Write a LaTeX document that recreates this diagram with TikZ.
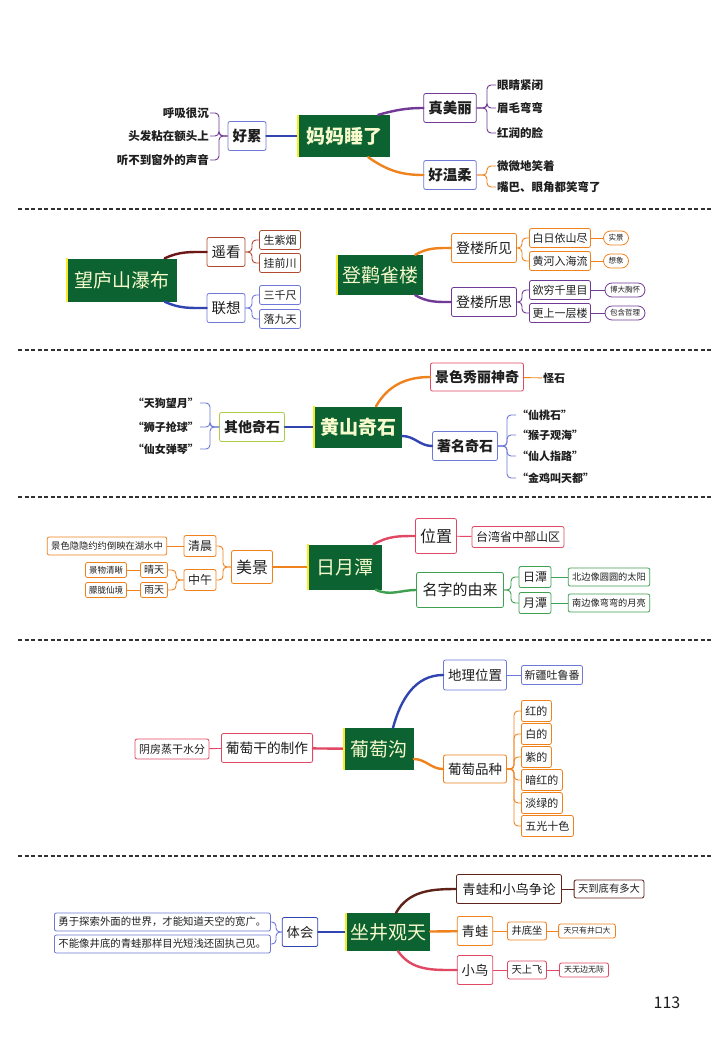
\documentclass[tikz,border=0pt]{standalone}
\usepackage{fontspec}
\setmainfont{Noto Sans CJK SC}
\usepackage{tikz}

\definecolor{cTopic}{RGB}{12,98,48}
\definecolor{cTopicText}{RGB}{246,250,205}
\definecolor{cEdge}{RGB}{250,235,40}
\definecolor{cPurple}{RGB}{112,58,150}
\definecolor{cBlue}{RGB}{48,68,178}
\definecolor{cLightBlue}{RGB}{110,120,215}
\definecolor{cOrange}{RGB}{240,130,30}
\definecolor{cRust}{RGB}{175,75,50}
\definecolor{cMaroon}{RGB}{110,22,22}
\definecolor{cPink}{RGB}{225,72,100}
\definecolor{cLime}{RGB}{170,205,70}
\definecolor{cGreen}{RGB}{62,160,80}
\definecolor{cDark}{RGB}{95,35,25}
\definecolor{cText}{RGB}{30,30,30}
\definecolor{cSep}{RGB}{50,50,50}

\tikzset{
	topicbox/.style={fill=cTopic, text=cTopicText, font=\fontsize{19}{19}\selectfont, inner xsep=7pt, inner ysep=1pt, minimum height=42pt},
	topicedge/.style={draw=cEdge, line width=2.2pt},
	bigbox/.style={draw=#1, line width=0.8pt, fill=white, rounded corners=2pt, text=cText, font=\fontsize{14}{14}\selectfont, inner xsep=4.5pt, inner ysep=1pt, minimum height=29pt},
	midbox/.style={bigbox=#1, font=\fontsize{12}{12}\selectfont, inner xsep=4pt, minimum height=21pt},
	subbox/.style={bigbox=#1, font=\fontsize{11}{11}\selectfont, inner xsep=4pt, minimum height=19pt},
	smallbox/.style={bigbox=#1, font=\fontsize{9}{9}\selectfont, inner xsep=3.5pt, minimum height=15pt},
	pillbox/.style={bigbox=#1, rounded corners=7pt, font=\fontsize{7.5}{7.5}\selectfont, inner xsep=5pt, minimum height=14pt},
	leaftext/.style={text=cText, font=\bfseries\fontsize{11.5}{11.5}\selectfont, inner sep=1pt},
	branchline/.style={draw=#1, line width=2.4pt, line cap=round},
	twigline/.style={draw=#1, line width=0.9pt, rounded corners=4pt},
	sepline/.style={draw=cSep, line width=1.3pt, dash pattern=on 4pt off 2.5pt},
}

\begin{document}
\begin{tikzpicture}[x=1pt, y=-1pt]

	\useasboundingbox[fill=white] (0,0) rectangle (713,1042);
	\foreach \y in {209,350,497,640,856}
		\draw[sepline] (18,\y) -- (713,\y);

	\node[topicbox, font=\bfseries\fontsize{19}{19}\selectfont, inner xsep=8pt] (mama) at (344,136) {妈妈睡了};
	\node[bigbox=cLightBlue, font=\bfseries\fontsize{14.5}{14.5}\selectfont] (haolei) at (247,136) {好累};
	\node[bigbox=cPurple, font=\bfseries\fontsize{14.5}{14.5}\selectfont] (meili) at (450,108) {真美丽};
	\node[bigbox=cLightBlue, font=\bfseries\fontsize{14.5}{14.5}\selectfont] (wenrou) at (450,175) {好温柔};
	\node[leaftext, anchor=east] (huxi) at (210,113) {呼吸很沉};
	\node[leaftext, anchor=east] (toufa) at (210,136) {头发粘在额头上};
	\node[leaftext, anchor=east] (tingbu) at (210,160) {听不到窗外的声音};
	\node[leaftext, anchor=west] (yanjing) at (496,85) {眼睛紧闭};
	\node[leaftext, anchor=west] (meimao) at (496,108) {眉毛弯弯};
	\node[leaftext, anchor=west] (lian) at (496,133) {红润的脸};
	\node[leaftext, anchor=west] (xiaozhe) at (496,166) {微微地笑着};
	\node[leaftext, anchor=west] (zuiba) at (496,187) {嘴巴、眼角都笑弯了};
	\coordinate (jlei) at (219,136);
	\coordinate (jmei) at (487,108);
	\coordinate (jwen) at (487,175);

	\path[branchline=cBlue] (mama) edge (haolei);
	\draw[branchline=cPurple] ([xshift=-12pt]mama.north east) to[out=15,in=180] (meili.west);
	\draw[branchline=cOrange] ([xshift=-22pt]mama.south east) to[out=-35,in=180] (wenrou.west);
	\foreach \n in {huxi,toufa,tingbu}
		\draw[twigline=cPurple] (haolei.west) -- (jlei) |- (\n.east);
	\foreach \n in {yanjing,meimao,lian}
		\draw[twigline=cPurple] (meili.east) -- (jmei) |- (\n.west);
	\foreach \n in {xiaozhe,zuiba}
		\draw[twigline=cOrange] (wenrou.east) -- (jwen) |- (\n.west);

	\node[topicbox, inner xsep=7pt, minimum height=43pt] (lushan) at (122,280) {望庐山瀑布};
	\node[bigbox=cRust, font=\fontsize{14.5}{14.5}\selectfont] (yaokan) at (226,252) {遥看};
	\node[bigbox=cLightBlue, font=\fontsize{14.5}{14.5}\selectfont] (lianxiang) at (226,308) {联想};
	\node[subbox=cRust] (ziyan) at (280,240) {生紫烟};
	\node[subbox=cRust] (qianchuan) at (280,263) {挂前川};
	\node[subbox=cLightBlue] (qianchi) at (280,295) {三千尺};
	\node[subbox=cLightBlue] (jiutian) at (280,319) {落九天};
	\coordinate (jyao) at (252,252);
	\coordinate (jlian) at (252,308);

	\draw[branchline=cMaroon] ([xshift=-12pt]lushan.north east) to[out=25,in=180] (yaokan.west);
	\draw[branchline=cBlue] ([xshift=-12pt]lushan.south east) to[out=-25,in=180] (lianxiang.west);
	\foreach \n in {ziyan,qianchuan}
		\draw[twigline=cRust] (yaokan.east) -- (jyao) |- (\n.west);
	\foreach \n in {qianchi,jiutian}
		\draw[twigline=cLightBlue] (lianxiang.east) -- (jlian) |- (\n.west);

	\node[topicbox, inner xsep=5pt, minimum height=40pt] (guanque) at (380,275) {登鹳雀楼};
	\node[bigbox=cOrange] (suojian) at (484,248) {登楼所见};
	\node[bigbox=cPurple] (suosi) at (484,302) {登楼所思};
	\node[subbox=cOrange, inner xsep=3pt] (bairi) at (560,238) {白日依山尽};
	\node[subbox=cOrange, inner xsep=3pt] (huanghe) at (560,261) {黄河入海流};
	\node[subbox=cPurple, inner xsep=3pt] (yuqiong) at (560,290) {欲穷千里目};
	\node[subbox=cPurple, inner xsep=3pt] (gengshang) at (560,313) {更上一层楼};
	\node[pillbox=cOrange] (shijing) at (616,238) {实景};
	\node[pillbox=cOrange] (xiangxiang) at (616,261) {想象};
	\node[pillbox=cPurple] (xionghuai) at (625,290) {博大胸怀};
	\node[pillbox=cPurple] (zheli) at (625,313) {包含哲理};
	\coordinate (jjian) at (522,248);
	\coordinate (jsi) at (522,302);

	\draw[branchline=cOrange] ([xshift=-8pt]guanque.north east) to[out=30,in=180] (suojian.west);
	\draw[branchline=cPurple] ([xshift=-8pt]guanque.south east) to[out=-30,in=180] (suosi.west);
	\foreach \n in {bairi,huanghe}
		\draw[twigline=cOrange] (suojian.east) -- (jjian) |- (\n.west);
	\foreach \n in {yuqiong,gengshang}
		\draw[twigline=cPurple] (suosi.east) -- (jsi) |- (\n.west);
	\path[twigline=cOrange] (bairi) edge (shijing) (huanghe) edge (xiangxiang);
	\path[twigline=cPurple] (yuqiong) edge (xionghuai) (gengshang) edge (zheli);

	\node[topicbox, font=\bfseries\fontsize{19}{19}\selectfont, inner xsep=6pt, minimum height=41pt] (huangshan) at (358,427) {黄山奇石};
	\node[bigbox=cLime, font=\bfseries\fontsize{14}{14}\selectfont] (qita) at (252,427) {其他奇石};
	\node[bigbox=cPink, font=\bfseries\fontsize{14}{14}\selectfont, minimum height=28pt] (jingse) at (477,377) {景色秀丽神奇};
	\node[bigbox=cLightBlue, font=\bfseries\fontsize{14}{14}\selectfont] (zhuming) at (465,446) {著名奇石};
	\node[leaftext, font=\bfseries\fontsize{11}{11}\selectfont, anchor=east] (tiangou) at (200,403) {“天狗望月”};
	\node[leaftext, font=\bfseries\fontsize{11}{11}\selectfont, anchor=east] (shizi) at (200,427) {“狮子抢球”};
	\node[leaftext, font=\bfseries\fontsize{11}{11}\selectfont, anchor=east] (xiannv) at (200,449) {“仙女弹琴”};
	\node[leaftext, font=\bfseries\fontsize{11}{11}\selectfont, anchor=west] (guaishi) at (542,378) {怪石};
	\node[leaftext, font=\bfseries\fontsize{11}{11}\selectfont, anchor=west] (xiantao) at (516,415) {“仙桃石”};
	\node[leaftext, font=\bfseries\fontsize{11}{11}\selectfont, anchor=west] (houzi) at (516,435) {“猴子观海”};
	\node[leaftext, font=\bfseries\fontsize{11}{11}\selectfont, anchor=west] (zhilu) at (516,456) {“仙人指路”};
	\node[leaftext, font=\bfseries\fontsize{11}{11}\selectfont, anchor=west] (jinji) at (516,478) {“金鸡叫天都”};
	\coordinate (jqi) at (210,427);
	\coordinate (jzhu) at (507,446);

	\path[branchline=cBlue] (huangshan) edge (qita);
	\draw[branchline=cOrange] ([xshift=18pt]huangshan.north) to[out=60,in=180] (jingse.west);
	\draw[branchline=cBlue] ([yshift=-9pt]huangshan.east) to[out=0,in=180] (zhuming.west);
	\path[twigline=cOrange] (jingse) edge (guaishi);
	\foreach \n in {tiangou,shizi,xiannv}
		\draw[twigline=cLightBlue] (qita.west) -- (jqi) |- (\n.east);
	\foreach \n in {xiantao,houzi,zhilu,jinji}
		\draw[twigline=cLightBlue] (zhuming.east) -- (jzhu) |- (\n.west);

	\node[topicbox, inner xsep=8pt, minimum height=45pt] (riyuetan) at (345,567) {日月潭};
	\node[bigbox=cOrange, font=\fontsize{16}{16}\selectfont, minimum height=33pt] (meijing) at (252,567) {美景};
	\node[midbox=cOrange] (qingchen) at (200,546) {清晨};
	\node[midbox=cOrange] (zhongwu) at (200,580) {中午};
	\node[subbox=cOrange, font=\fontsize{9.3}{9.3}\selectfont, minimum height=18pt] (daoying) at (107,546) {景色隐隐约约倒映在湖水中};
	\node[smallbox=cOrange, font=\fontsize{10}{10}\selectfont] (qingtian) at (154,570) {晴天};
	\node[smallbox=cOrange, font=\fontsize{10}{10}\selectfont] (yutian) at (154,590) {雨天};
	\node[smallbox=cOrange, font=\fontsize{8.5}{8.5}\selectfont] (qingxi) at (106,570) {景物清晰};
	\node[smallbox=cOrange, font=\fontsize{8.5}{8.5}\selectfont] (menglong) at (106,590) {朦胧仙境};
	\node[bigbox=cPink, font=\fontsize{16}{16}\selectfont, minimum height=35pt] (weizhi) at (436,536) {位置};
	\node[midbox=cPink] (taiwan) at (518,537) {台湾省中部山区};
	\node[bigbox=cGreen, font=\fontsize{15}{15}\selectfont, minimum height=35pt, inner xsep=6pt] (mingzi) at (460,590) {名字的由来};
	\node[midbox=cGreen] (ritan) at (535,577) {日潭};
	\node[midbox=cGreen] (yuetan) at (535,603) {月潭};
	\node[subbox=cGreen, font=\fontsize{9.2}{9.2}\selectfont, minimum height=18pt] (taiyang) at (609,577) {北边像圆圆的太阳};
	\node[subbox=cGreen, font=\fontsize{9.2}{9.2}\selectfont, minimum height=18pt] (yueliang) at (609,603) {南边像弯弯的月亮};
	\coordinate (jmeij) at (223,567);
	\coordinate (jzhong) at (176,580);
	\coordinate (jming) at (511,590);

	\path[branchline=cOrange] (riyuetan) edge (meijing);
	\draw[branchline=cPink] ([xshift=-8pt]riyuetan.north east) to[out=30,in=180] (weizhi.west);
	\draw[branchline=cGreen] ([xshift=-6pt]riyuetan.south east) to[out=-25,in=180] (mingzi.west);
	\foreach \n in {qingchen,zhongwu}
		\draw[twigline=cOrange] (meijing.west) -- (jmeij) |- (\n.east);
	\foreach \n in {qingtian,yutian}
		\draw[twigline=cOrange] (zhongwu.west) -- (jzhong) |- (\n.east);
	\path[twigline=cOrange] (qingchen) edge (daoying) (qingtian) edge (qingxi) (yutian) edge (menglong);
	\path[twigline=cPink] (weizhi) edge (taiwan);
	\foreach \n in {ritan,yuetan}
		\draw[twigline=cGreen] (mingzi.east) -- (jming) |- (\n.west);
	\path[twigline=cGreen] (ritan) edge (taiyang) (yuetan) edge (yueliang);

	\node[topicbox, inner xsep=6pt, minimum height=42pt] (putaogou) at (379,749) {葡萄沟};
	\node[bigbox=cPink, font=\fontsize{13.7}{13.7}\selectfont] (zhizuo) at (267,748) {葡萄干的制作};
	\node[subbox=cPink, minimum height=20pt] (yinfang) at (172,749) {阴房蒸干水分};
	\node[bigbox=cLightBlue, font=\fontsize{13.5}{13.5}\selectfont, minimum height=30pt] (dili) at (475,675) {地理位置};
	\node[subbox=cLightBlue, inner xsep=3pt] (tulufan) at (552,675) {新疆吐鲁番};
	\node[bigbox=cOrange, font=\fontsize{13.5}{13.5}\selectfont, minimum height=28pt] (pinzhong) at (475,769) {葡萄品种};
	\node[subbox=cOrange, minimum height=21pt, anchor=west] (hongde) at (521,711) {红的};
	\node[subbox=cOrange, minimum height=21pt, anchor=west] (baide) at (521,734) {白的};
	\node[subbox=cOrange, minimum height=21pt, anchor=west] (zide) at (521,757) {紫的};
	\node[subbox=cOrange, minimum height=21pt, anchor=west] (anhong) at (521,780) {暗红的};
	\node[subbox=cOrange, minimum height=21pt, anchor=west] (danlv) at (521,803) {淡绿的};
	\node[subbox=cOrange, minimum height=21pt, anchor=west] (wuguang) at (521,826) {五光十色};
	\coordinate (jpin) at (514,769);

	\path[branchline=cPink] (putaogou) edge (zhizuo);
	\path[twigline=cPink] (zhizuo) edge (yinfang);
	\draw[branchline=cBlue] ([xshift=14pt]putaogou.north) to[out=75,in=180] (dili.west);
	\draw[branchline=cOrange] ([yshift=-10pt]putaogou.east) to[out=0,in=180] (pinzhong.west);
	\path[twigline=cLightBlue] (dili) edge (tulufan);
	\foreach \n in {hongde,baide,zide,anhong,danlv,wuguang}
		\draw[twigline=cOrange] (pinzhong.east) -- (jpin) |- (\n.west);

	\node[topicbox, inner xsep=4pt, minimum height=38pt] (zuojing) at (388,932) {坐井观天};
	\node[bigbox=cBlue, font=\fontsize{13.3}{13.3}\selectfont] (tihui) at (300,932) {体会};
	\node[subbox=cLightBlue, font=\fontsize{10.4}{10.4}\selectfont, minimum height=18pt, anchor=west] (yonggan) at (54,922) {勇于探索外面的世界，才能知道天空的宽广。};
	\node[subbox=cLightBlue, font=\fontsize{10.4}{10.4}\selectfont, minimum height=18pt, anchor=west] (buneng) at (54,944) {不能像井底的青蛙那样目光短浅还固执己见。};
	\node[bigbox=cDark, font=\fontsize{13.3}{13.3}\selectfont, inner xsep=6pt] (zhenglun) at (509,889) {青蛙和小鸟争论};
	\node[subbox=cDark, font=\fontsize{10.3}{10.3}\selectfont, minimum height=18pt] (duoda) at (609,889) {天到底有多大};
	\node[bigbox=cOrange, font=\fontsize{13.3}{13.3}\selectfont] (qingwa) at (475,931) {青蛙};
	\node[subbox=cOrange, font=\fontsize{10.3}{10.3}\selectfont, minimum height=18pt] (jingdi) at (527,931) {井底坐};
	\node[smallbox=cOrange, font=\fontsize{7.8}{7.8}\selectfont, minimum height=14pt, inner xsep=5pt] (jingkou) at (587,931) {天只有井口大};
	\node[bigbox=cPink, font=\fontsize{13.3}{13.3}\selectfont] (xiaoniao) at (475,970) {小鸟};
	\node[subbox=cPink, font=\fontsize{10.3}{10.3}\selectfont, minimum height=18pt] (tianshang) at (527,970) {天上飞};
	\node[smallbox=cPink, font=\fontsize{8}{8}\selectfont, minimum height=14pt, inner xsep=4.5pt] (wubian) at (584,970) {天无边无际};
	\coordinate (jti) at (276,932);

	\path[branchline=cBlue] (zuojing) edge (tihui);
	\foreach \n in {yonggan,buneng}
		\draw[twigline=cLightBlue] (tihui.west) -- (jti) |- (\n.east);
	\draw[branchline=cDark] ([xshift=8pt]zuojing.north) to[out=60,in=180] (zhenglun.west);
	\path[branchline=cOrange] (zuojing) edge (qingwa);
	\draw[branchline=cPink] ([xshift=10pt]zuojing.south) to[out=-55,in=180] (xiaoniao.west);
	\path[twigline=cDark] (zhenglun) edge (duoda);
	\path[twigline=cOrange] (qingwa) edge (jingdi) (jingdi) edge (jingkou);
	\path[twigline=cPink] (xiaoniao) edge (tianshang) (tianshang) edge (wubian);

	\foreach \t in {mama,lushan,guanque,huangshan,riyuetan,putaogou,zuojing}
		\draw[topicedge] (\t.north west) -- (\t.south west);

	\node[font=\fontsize{16}{16}\selectfont, text=cText] (yema) at (667,1003) {113};

\end{tikzpicture}
\end{document}
